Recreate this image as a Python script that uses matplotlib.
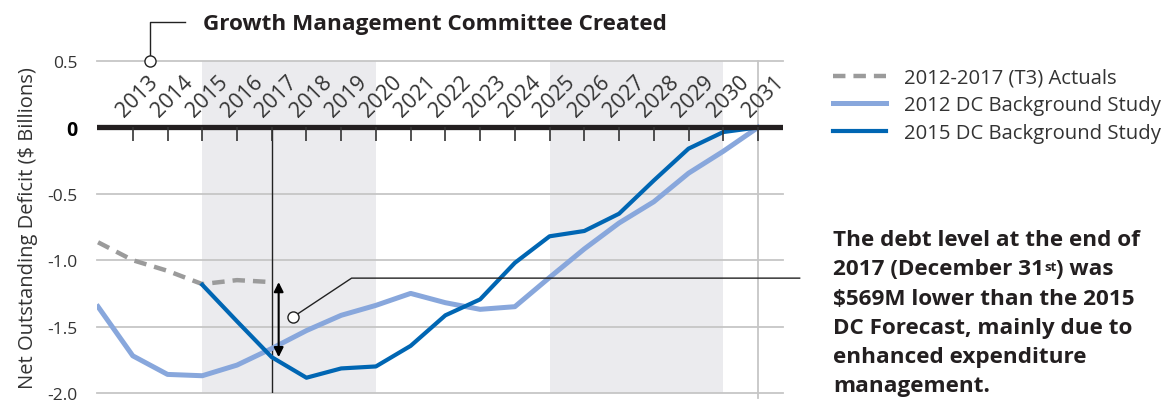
import matplotlib.pyplot as plt
from matplotlib.lines import Line2D

plt.rcParams['font.family'] = ['Open Sans', 'DejaVu Sans']

# datos
anios = list(range(2013, 2032))
x_real = [2012, 2013, 2014, 2015, 2016, 2017]
real = [-0.865, -1.0, -1.08, -1.18, -1.15, -1.165]
x_2012 = list(range(2012, 2032))
dc_2012 = [-1.35, -1.72, -1.86, -1.87, -1.79, -1.665, -1.53, -1.415, -1.34, -1.25,
           -1.32, -1.37, -1.35, -1.13, -0.915, -0.72, -0.56, -0.345, -0.18, 0.0]
x_2015 = list(range(2015, 2032))
dc_2015 = [-1.185, -1.46, -1.73, -1.885, -1.815, -1.80, -1.645, -1.415, -1.295,
           -1.02, -0.82, -0.78, -0.65, -0.40, -0.16, -0.035, 0.0]
yticks = [0.5, 0, -0.5, -1.0, -1.5, -2.0]
ytick_labels = ["0.5", "0", "-0.5", "-1.0", "-1.5", "-2.0"]
bandas = [(2015, 2020), (2025, 2030)]

fig = plt.figure(figsize=(11.66, 4.02), dpi=100)
ax = fig.add_axes([97 / 1166, 1 - 394 / 402, (783 - 97) / 1166, (394 - 62) / 402])
ax.set_xlim(2011.97, 2031.72)
ax.set_ylim(-2.0, 0.5)
for s in ax.spines.values():
    s.set_visible(False)

# bandas grises
for a, b in bandas:
    ax.axvspan(a, b, color="#ebebee", zorder=0, lw=0)

# rejilla
for y in [0.5, -0.5, -1.0, -1.5, -2.0]:
    ax.axhline(y, color="#c6c6c6", lw=1.3, zorder=1, clip_on=False)

ax.plot([2031, 2031], [0.5, -2.04], color="#c6c6c6", lw=1.3, zorder=1, clip_on=False)
ax.plot([2017, 2017], [0, -2.0], color="#222222", lw=1.0, zorder=2)

# linea cero y marcas
ax.axhline(0, color="#231f20", lw=3.8, zorder=5)
ax.vlines(anios, -0.1, 0, color="#333333", lw=1.2, zorder=5)
for a in anios:
    ax.text(a - 0.24, 0.08, str(a), rotation=45, ha="left", va="baseline",
            rotation_mode="anchor", fontsize=15.5, color="#333333")

# series
ax.plot(x_real, real, color="#9b9b9b", lw=3.2, dashes=(2.8, 1.8), zorder=4,
        label="2012-2017 (T3) Actuals")
ax.plot(x_2012, dc_2012, color="#88a7dc", lw=3.6, zorder=3,
        label="2012 DC Background Study")
ax.plot(x_2015, dc_2015, color="#0066b3", lw=3.0, zorder=4,
        label="2015 DC Background Study")

# ejes
ax.set_yticks(yticks)
ax.set_yticklabels(ytick_labels)
ax.tick_params(axis="y", length=0, pad=14, labelsize=12.5, labelcolor="#333333")
ax.set_xticks([])
lab0 = ax.get_yticklabels()[1]
lab0.set_fontweight("bold")
lab0.set_color("black")
lab0.set_fontsize(14)
ax.set_ylabel("Net Outstanding Deficit ($ Billions)", fontsize=14.5, color="#333333",
              labelpad=7)

# flecha doble
ax.annotate("", xy=(2017.2, -1.73), xytext=(2017.2, -1.165),
            arrowprops=dict(arrowstyle="<|-|>", color="black", lw=1.5,
                            mutation_scale=14, shrinkA=0, shrinkB=0), zorder=6)

# llamada comite
ax.plot([2013.49, 2013.49, 2014.5], [0.5, 0.79, 0.79], color="#222222", lw=1.0,
        clip_on=False, zorder=6)
ax.plot([2013.49], [0.5], marker="o", ms=8, mfc="white", mec="#222222", mew=1.0,
        clip_on=False, zorder=7)
fig.text(203 / 1166, 1 - 30 / 402, "Growth Management Committee Created",
         fontsize=16.2, fontweight="bold", color="#231f20", va="baseline")

# llamada deuda
ax.plot([2017.6, 2019.3, 2032.2], [-1.43, -1.135, -1.135], color="#222222", lw=1.0,
        clip_on=False, zorder=6)
ax.plot([2017.6], [-1.43], marker="o", ms=8, mfc="white", mec="#222222", mew=1.0,
        clip_on=False, zorder=7)

tx = 833 / 1166
kw = dict(fontsize=16.2, fontweight="bold", color="#231f20")
fig.text(tx, 1 - 246 / 402, "The debt level at the end of", va="baseline", **kw)
t1 = fig.text(tx, 1 - 275 / 402, "2017 (December 31", va="baseline", **kw)
t2 = ax.annotate("st", xy=(1.0, 0.92), xycoords=t1, ha="left", va="top",
                 fontsize=9.5, fontweight="bold", color="#231f20",
                 annotation_clip=False)
ax.annotate(") was", xy=(1.0, 0.0), xycoords=(t2, t1), ha="left", va="bottom",
            annotation_clip=False, **kw)
fig.text(tx, 1 - 305 / 402, "$569M lower than the 2015", va="baseline", **kw)
fig.text(tx, 1 - 334 / 402, "DC Forecast, mainly due to", va="baseline", **kw)
fig.text(tx, 1 - 363 / 402, "enhanced expenditure", va="baseline", **kw)
fig.text(tx, 1 - 392 / 402, "management.", va="baseline", **kw)

# leyenda
handles = [
    Line2D([], [], color="#9b9b9b", lw=3.2, dashes=(2.8, 1.8)),
    Line2D([], [], color="#88a7dc", lw=3.6),
    Line2D([], [], color="#0066b3", lw=3.0),
]
fig.legend(handles, ["2012-2017 (T3) Actuals", "2012 DC Background Study",
                     "2015 DC Background Study"],
           loc="upper left", bbox_to_anchor=(833 / 1166, 1 - 69 / 402),
           frameon=False, fontsize=14.6, handlelength=2.6, handletextpad=0.9,
           labelspacing=0.36, borderpad=0, borderaxespad=0, labelcolor="#333333")

fig.savefig("out.png", dpi=100)
